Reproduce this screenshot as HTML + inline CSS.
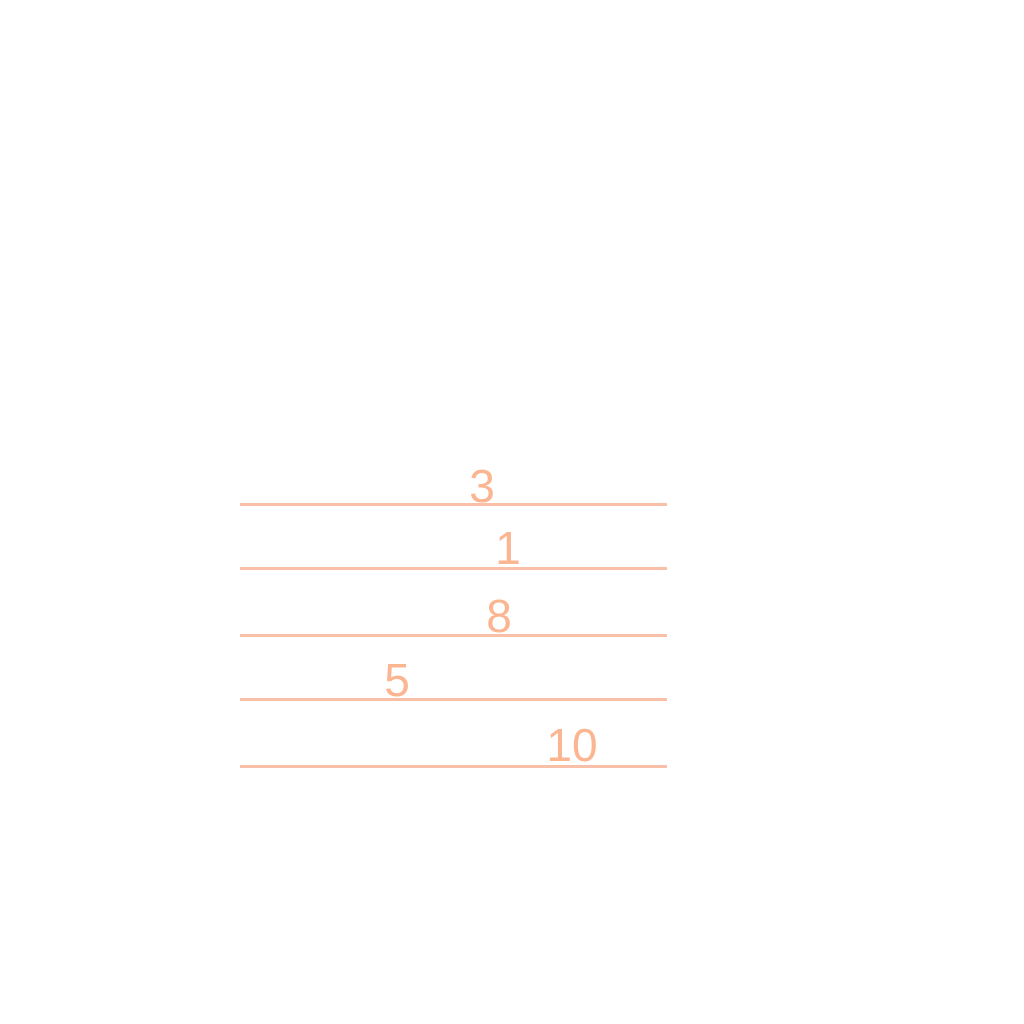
<!DOCTYPE html>
<html><head><style>
html,body{margin:0;padding:0;background:#fff;width:1024px;height:1024px;overflow:hidden}
.l{position:absolute;left:240px;width:427px;height:3px;background:#f8c0a8}
.t{position:absolute;font-family:"Liberation Sans",sans-serif;font-size:46px;color:#fbb590;line-height:1;transform:translateX(-50%)}
</style></head><body>
<div class="l" style="top:503px"></div>
<div class="l" style="top:567px"></div>
<div class="l" style="top:634px"></div>
<div class="l" style="top:698px"></div>
<div class="l" style="top:765px"></div>
<div class="t" style="left:482px;top:463px">3</div>
<div class="t" style="left:508px;top:525px">1</div>
<div class="t" style="left:499px;top:593px">8</div>
<div class="t" style="left:397px;top:657px">5</div>
<div class="t" style="left:572px;top:722px">10</div>
</body></html>
